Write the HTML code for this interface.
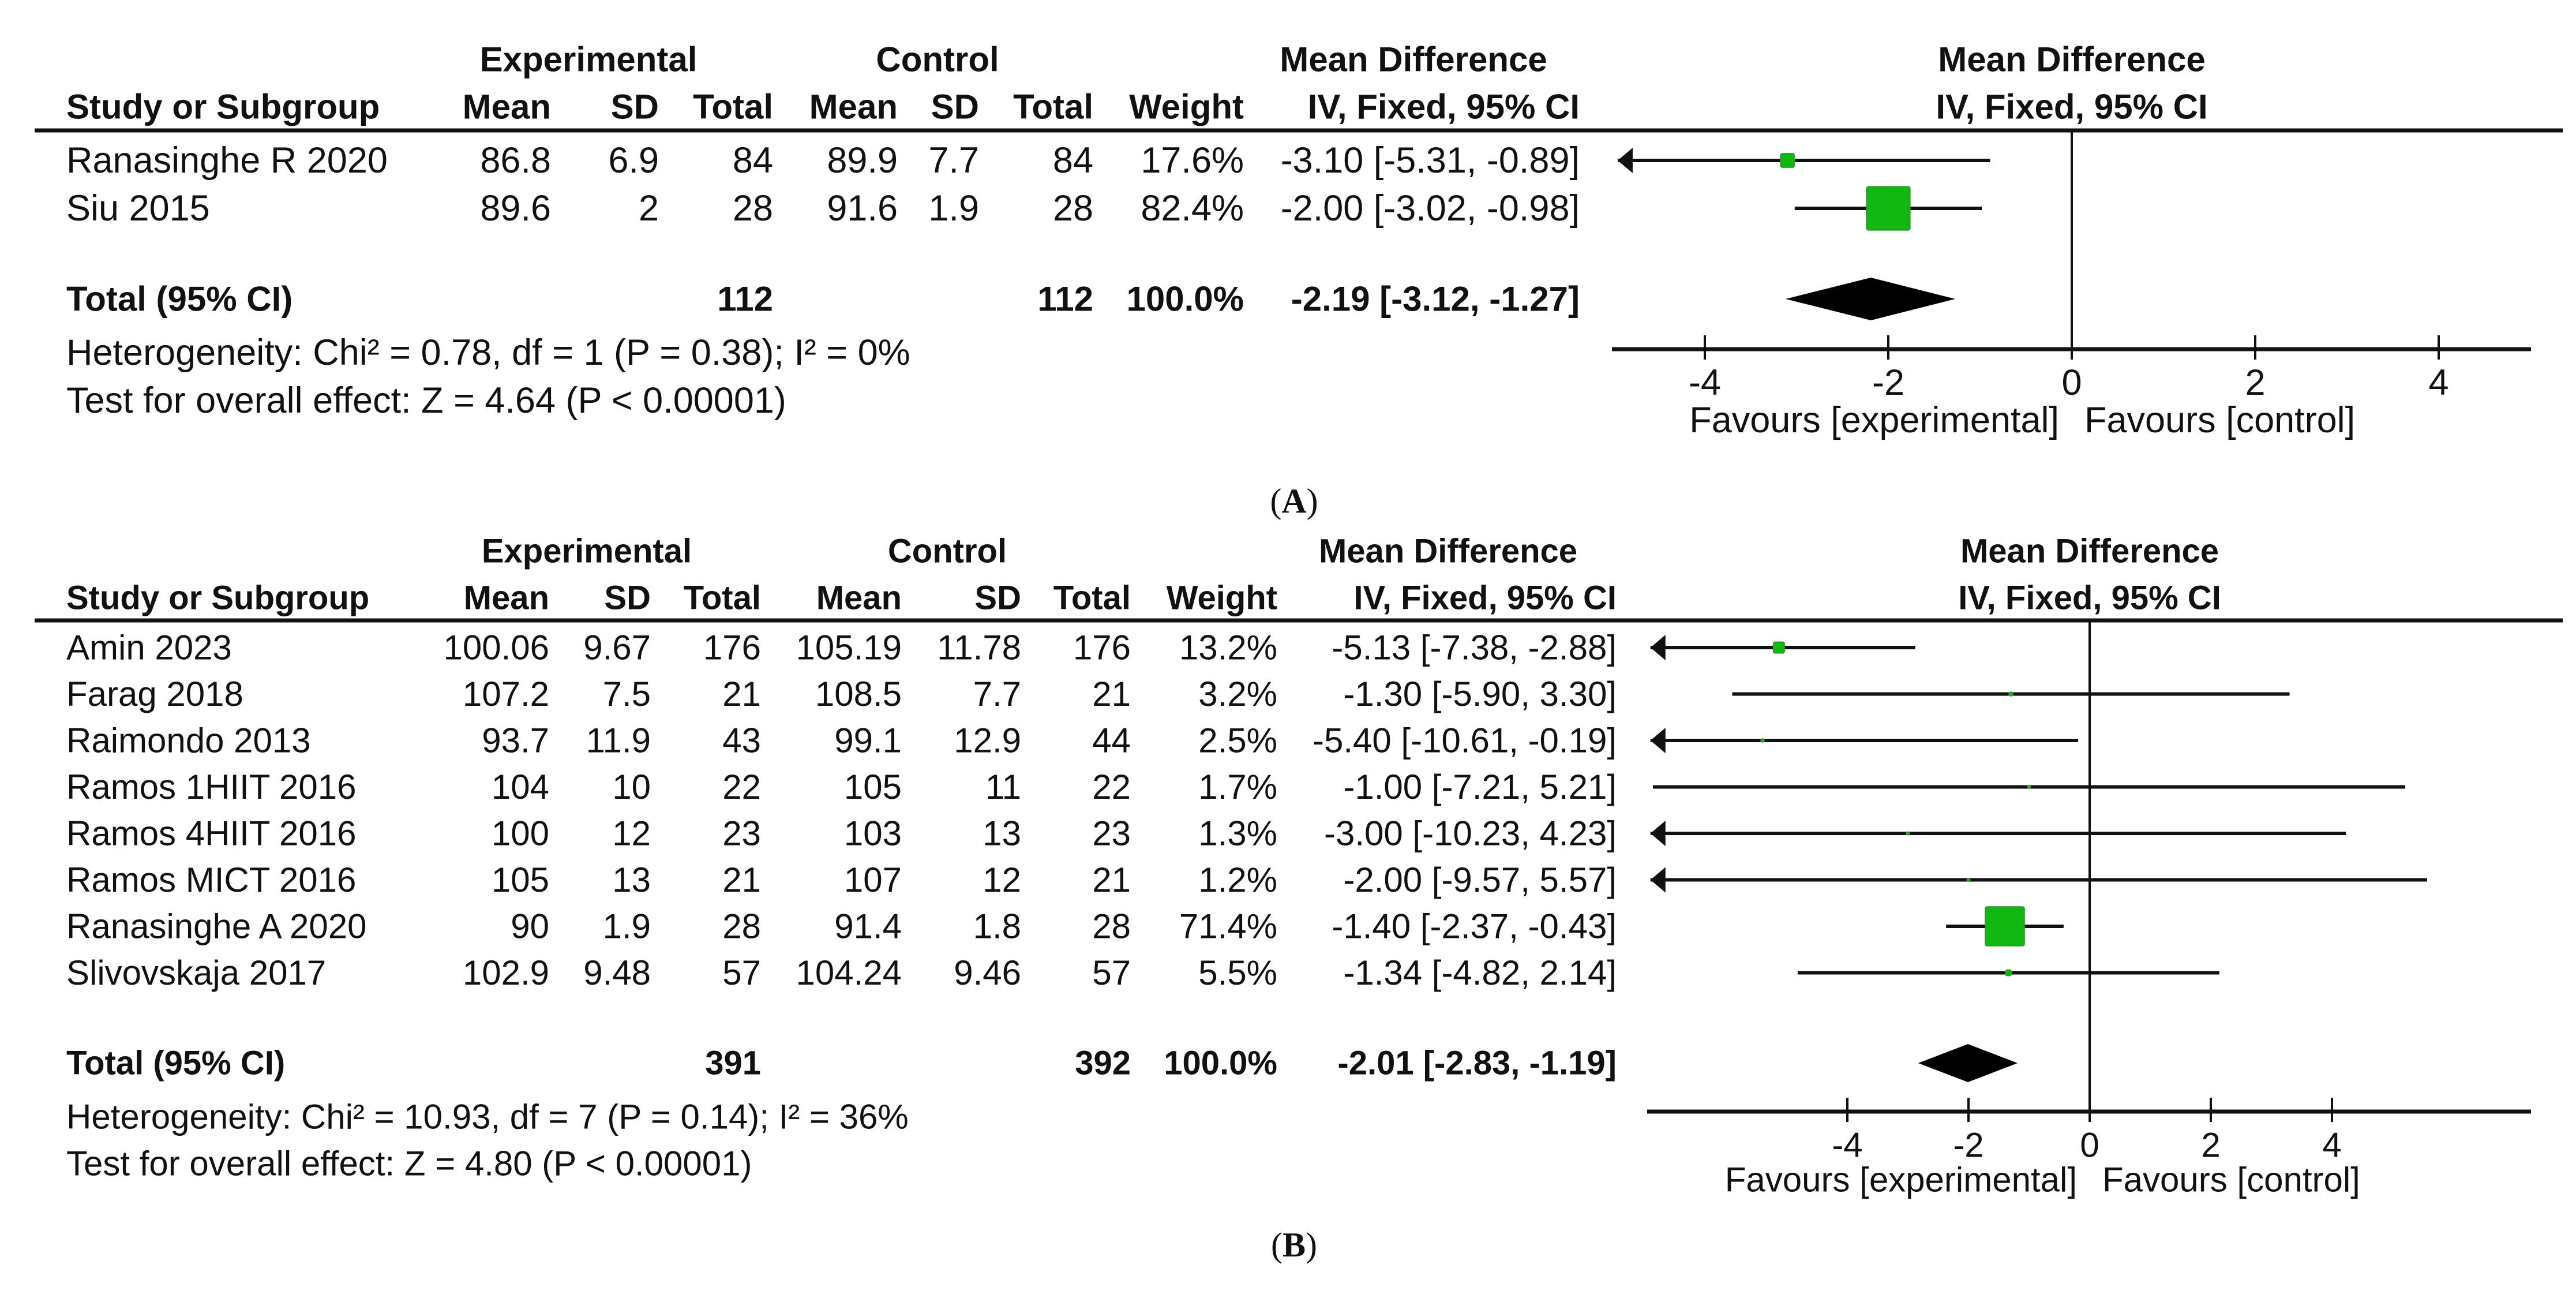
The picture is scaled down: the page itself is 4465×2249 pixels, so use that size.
<!DOCTYPE html>
<html><head><meta charset="utf-8"><style>
html,body{margin:0;padding:0;background:#fff;}
svg{display:block;}
text{font-family:"Liberation Sans",Arial,sans-serif;fill:#111;}
#pa text{font-size:63px;}
#pb text{font-size:60px;}
#pa text.b{font-weight:bold;font-size:60px;}
#pb text.b{font-weight:bold;font-size:58px;}
</style></head><body>
<svg id="chart" width="4465" height="2249" viewBox="0 0 4465 2249" xmlns="http://www.w3.org/2000/svg"></svg>
<script>
// Panel A data
const aStudies = ["Ranasinghe R 2020", "Siu 2015"];
const aMeanE = ["86.8", "89.6"];
const aSdE = ["6.9", "2"];
const aNE = ["84", "28"];
const aMeanC = ["89.9", "91.6"];
const aSdC = ["7.7", "1.9"];
const aNC = ["84", "28"];
const aWeight = [17.6, 82.4];
const aMD = [-3.10, -2.00];
const aLo = [-5.31, -3.02];
const aHi = [-0.89, -0.98];
const aTotal = {nE: "112", nC: "112", md: -2.19, lo: -3.12, hi: -1.27};
const aTicks = [-4, -2, 0, 2, 4];
const aHet = "Heterogeneity: Chi² = 0.78, df = 1 (P = 0.38); I² = 0%";
const aTest = "Test for overall effect: Z = 4.64 (P < 0.00001)";

// Panel B data
const bStudies = ["Amin 2023", "Farag 2018", "Raimondo 2013", "Ramos 1HIIT 2016", "Ramos 4HIIT 2016", "Ramos MICT 2016", "Ranasinghe A 2020", "Slivovskaja 2017"];
const bMeanE = ["100.06", "107.2", "93.7", "104", "100", "105", "90", "102.9"];
const bSdE = ["9.67", "7.5", "11.9", "10", "12", "13", "1.9", "9.48"];
const bNE = ["176", "21", "43", "22", "23", "21", "28", "57"];
const bMeanC = ["105.19", "108.5", "99.1", "105", "103", "107", "91.4", "104.24"];
const bSdC = ["11.78", "7.7", "12.9", "11", "13", "12", "1.8", "9.46"];
const bNC = ["176", "21", "44", "22", "23", "21", "28", "57"];
const bWeight = [13.2, 3.2, 2.5, 1.7, 1.3, 1.2, 71.4, 5.5];
const bMD = [-5.13, -1.30, -5.40, -1.00, -3.00, -2.00, -1.40, -1.34];
const bLo = [-7.38, -5.90, -10.61, -7.21, -10.23, -9.57, -2.37, -4.82];
const bHi = [-2.88, 3.30, -0.19, 5.21, 4.23, 5.57, -0.43, 2.14];
const bTotal = {nE: "391", nC: "392", md: -2.01, lo: -2.83, hi: -1.19};
const bTicks = [-4, -2, 0, 2, 4];
const bHet = "Heterogeneity: Chi² = 10.93, df = 7 (P = 0.14); I² = 36%";
const bTest = "Test for overall effect: Z = 4.80 (P < 0.00001)";

const svg = document.getElementById('chart');
const NS = "http://www.w3.org/2000/svg";
function el(tag, attrs, parent) {
  const e = document.createElementNS(NS, tag);
  for (const k in attrs) e.setAttribute(k, attrs[k]);
  (parent || svg).appendChild(e);
  return e;
}
function txt(s, x, y, anchor, cls, parent, name) {
  const t = el('text', {x: x, y: y, 'text-anchor': anchor, 'dominant-baseline': 'central'}, parent);
  if (cls) t.setAttribute('class', cls);
  
  
  t.textContent = s;
  return t;
}
function fmt(v) { return (v < 0 ? "-" : "") + Math.abs(v).toFixed(2); }
function ci(m, l, h) { return fmt(m) + " [" + fmt(l) + ", " + fmt(h) + "]"; }

function panel(P) {
  const g = el('g', {id: P.id});
  
  
  const c = P.cols;
  txt("Experimental", c.expC, P.yT1, 'middle', 'b', g, 'experimental-header');
  txt("Control", c.ctlC, P.yT1, 'middle', 'b', g, 'control-header');
  txt("Mean Difference", c.mdC, P.yT1, 'middle', 'b', g, 'mean-difference-header');
  txt("Mean Difference", P.zeroX, P.yT1, 'middle', 'b', g, 'plot-header');
  txt("Study or Subgroup", c.study, P.yH, 'start', 'b', g, 'study-column-header');
  txt("Mean", c.mE, P.yH, 'end', 'b', g, 'exp-mean-header');
  txt("SD", c.sE, P.yH, 'end', 'b', g, 'exp-sd-header');
  txt("Total", c.nE, P.yH, 'end', 'b', g, 'exp-total-header');
  txt("Mean", c.mC, P.yH, 'end', 'b', g, 'ctl-mean-header');
  txt("SD", c.sC, P.yH, 'end', 'b', g, 'ctl-sd-header');
  txt("Total", c.nC, P.yH, 'end', 'b', g, 'ctl-total-header');
  txt("Weight", c.w, P.yH, 'end', 'b', g, 'weight-header');
  txt("IV, Fixed, 95% CI", c.ci, P.yH, 'end', 'b', g, 'ci-header');
  txt("IV, Fixed, 95% CI", P.zeroX, P.yH, 'middle', 'b', g, 'plot-subheader');
  const hl = el('line', {x1: 60, x2: 4442, y1: P.yLine, y2: P.yLine, stroke: '#111', 'stroke-width': 7}, g);
  
  

  const xs = v => P.zeroX + v * P.unit;
  const xClip = xs(P.minV);
  const zl = el('line', {x1: P.zeroX, x2: P.zeroX, y1: P.yLine, y2: P.yAxis, stroke: '#111', 'stroke-width': 4}, g);
  
  

  P.studies.forEach((s, i) => {
    const y = P.y0 + i * P.dy;
    txt(s, c.study, y, 'start', '', g, 'study-name');
    txt(P.mE[i], c.mE, y, 'end', '', g, 'exp-mean');
    txt(P.sE[i], c.sE, y, 'end', '', g, 'exp-sd');
    txt(P.nE[i], c.nE, y, 'end', '', g, 'exp-total');
    txt(P.mC[i], c.mC, y, 'end', '', g, 'ctl-mean');
    txt(P.sC[i], c.sC, y, 'end', '', g, 'ctl-sd');
    txt(P.nC[i], c.nC, y, 'end', '', g, 'ctl-total');
    txt(P.w[i].toFixed(1) + "%", c.w, y, 'end', '', g, 'weight');
    txt(ci(P.md[i], P.lo[i], P.hi[i]), c.ci, y, 'end', '', g, 'mean-difference-ci');
    const lo = Math.max(xs(P.lo[i]), xClip);
    const hi = xs(P.hi[i]);
    const ln = el('line', {x1: lo, x2: hi, y1: y, y2: y, stroke: '#111', 'stroke-width': 6}, g);
    
    
    if (xs(P.lo[i]) < xClip) {
      const ar = el('path', {d: `M${xClip} ${y} l26 -22 l0 44 z`, fill: '#111'}, g);
      
      
    }
    const sz = Math.max(5, 2.75 * Math.pow(P.w[i], 0.75));
    const sq = el('rect', {x: xs(P.md[i]) - sz / 2, y: y - sz / 2, width: sz, height: sz, fill: '#11b811', stroke: '#2a9a2a', 'stroke-width': 2, rx: 3}, g);
    
    
  });

  const T = P.total;
  txt("Total (95% CI)", c.study, P.yTot, 'start', 'b', g, 'total-label');
  txt(T.nE, c.nE, P.yTot, 'end', 'b', g, 'exp-total-sum');
  txt(T.nC, c.nC, P.yTot, 'end', 'b', g, 'ctl-total-sum');
  txt("100.0%", c.w, P.yTot, 'end', 'b', g, 'total-weight');
  txt(ci(T.md, T.lo, T.hi), c.ci, P.yTot, 'end', 'b', g, 'total-ci');
  const d = el('path', {d: `M${xs(T.lo)} ${P.yTot} L${xs(T.md)} ${P.yTot - P.dh} L${xs(T.hi)} ${P.yTot} L${xs(T.md)} ${P.yTot + P.dh} Z`, fill: '#000'}, g);
  
  

  txt(P.het, c.study, P.yHet, 'start', '', g, 'heterogeneity-text');
  txt(P.test, c.study, P.yTest, 'start', '', g, 'overall-effect-text');

  const ax = el('line', {x1: P.axL, x2: P.axR, y1: P.yAxis, y2: P.yAxis, stroke: '#111', 'stroke-width': 7}, g);
  
  
  P.ticks.forEach(t => {
    const tk = el('line', {x1: xs(t), x2: xs(t), y1: P.yAxis - 24, y2: P.yAxis + 18, stroke: '#111', 'stroke-width': 4}, g);
    
    
    txt(String(t), xs(t), P.yAxis + 58, 'middle', '', g, 'x-tick-label');
  });
  txt("Favours [experimental]", P.zeroX - 22, P.yFav, 'end', '', g, 'favours-experimental');
  txt("Favours [control]", P.zeroX + 22, P.yFav, 'start', '', g, 'favours-control');
  const lab = el('text', {x: 2243, y: P.yLab, 'text-anchor': 'middle', 'dominant-baseline': 'central', style: 'font-family:"Liberation Serif",serif;font-size:60px'}, svg);
  
  
  lab.innerHTML = '(<tspan font-weight="bold">' + P.label + '</tspan>)';
}

panel({
  id: 'pa', name: 'panel-a', label: 'A',
  cols: {study: 115, mE: 955, sE: 1142, nE: 1340, mC: 1556, sC: 1697, nC: 1895, w: 2156, ci: 2738, expC: 1020, ctlC: 1625, mdC: 2450},
  yT1: 103, yH: 185, yLine: 226, y0: 278, dy: 83, yTot: 518, yHet: 611, yTest: 694, yAxis: 605, yFav: 728, yLab: 868,
  zeroX: 3591, unit: 159, minV: -4.95, axL: 2794, axR: 4387, dh: 37,
  studies: aStudies, mE: aMeanE, sE: aSdE, nE: aNE, mC: aMeanC, sC: aSdC, nC: aNC, w: aWeight, md: aMD, lo: aLo, hi: aHi,
  total: aTotal, ticks: aTicks, het: aHet, test: aTest
});
panel({
  id: 'pb', name: 'panel-b', label: 'B',
  cols: {study: 115, mE: 952, sE: 1128, nE: 1319, mC: 1563, sC: 1770, nC: 1960, w: 2214, ci: 2802, expC: 1017, ctlC: 1642, mdC: 2510},
  yT1: 955, yH: 1036, yLine: 1075, y0: 1122, dy: 80.5, yTot: 1842, yHet: 1935, yTest: 2016, yAxis: 1926, yFav: 2044, yLab: 2157,
  zeroX: 3622, unit: 105, minV: -7.25, axL: 2855, axR: 4387, dh: 33,
  studies: bStudies, mE: bMeanE, sE: bSdE, nE: bNE, mC: bMeanC, sC: bSdC, nC: bNC, w: bWeight, md: bMD, lo: bLo, hi: bHi,
  total: bTotal, ticks: bTicks, het: bHet, test: bTest
});
</script>
</body></html>
